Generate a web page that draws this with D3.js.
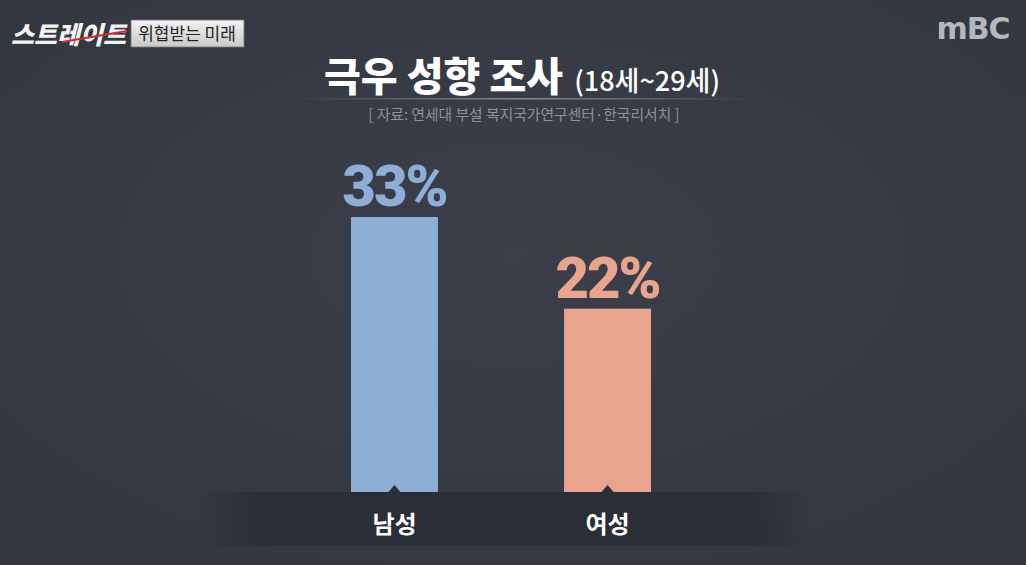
<!DOCTYPE html>
<html>
<head>
<meta charset="utf-8">
<script src="https://cdn.jsdelivr.net/npm/d3@7"></script>
<style>
  body { margin: 0; background: #363b45; overflow: hidden; }
  svg { display: block; }
</style>
</head>
<body>
<script>
const width = 1026;
const height = 565;
const font = "'Noto Sans CJK KR', 'Noto Sans', sans-serif";

// data
const categories = ["남성", "여성"];
const values = [33, 22];
const barColors = ["#8eaed6", "#e8a48d"];
const title = "극우 성향 조사";
const subtitle = "(18세~29세)";
const source = "[ 자료: 연세대 부설 복지국가연구센터·한국리서치 ]";

const svg = d3.select("body").append("svg")
  .attr("width", width)
  .attr("height", height)
  .attr("font-family", font);

const defs = svg.append("defs");

const bg = defs.append("radialGradient").attr("id", "bg")
  .attr("cx", "50%").attr("cy", "45%").attr("r", "70%");
bg.append("stop").attr("offset", "0%").attr("stop-color", "#3a3f49");
bg.append("stop").attr("offset", "100%").attr("stop-color", "#31363f");

const band = defs.append("linearGradient").attr("id", "band");
band.append("stop").attr("offset", "0%").attr("stop-color", "#2a2e36").attr("stop-opacity", 0);
band.append("stop").attr("offset", "10%").attr("stop-color", "#2a2e36").attr("stop-opacity", 0.95);
band.append("stop").attr("offset", "90%").attr("stop-color", "#2a2e36").attr("stop-opacity", 0.95);
band.append("stop").attr("offset", "100%").attr("stop-color", "#2a2e36").attr("stop-opacity", 0);

const rule = defs.append("linearGradient").attr("id", "rule");
rule.append("stop").attr("offset", "0%").attr("stop-color", "#9aa0aa").attr("stop-opacity", 0);
rule.append("stop").attr("offset", "50%").attr("stop-color", "#9aa0aa").attr("stop-opacity", 0.8);
rule.append("stop").attr("offset", "100%").attr("stop-color", "#9aa0aa").attr("stop-opacity", 0);

const tagGrad = defs.append("linearGradient").attr("id", "tag")
  .attr("x1", 0).attr("y1", 0).attr("x2", 0).attr("y2", 1);
tagGrad.append("stop").attr("offset", "0%").attr("stop-color", "#f2f2f2");
tagGrad.append("stop").attr("offset", "100%").attr("stop-color", "#c9c9c9");

svg.append("rect").attr("width", width).attr("height", height).attr("fill", "url(#bg)");

// scales
const x = d3.scaleBand()
  .domain(categories)
  .range([351, 651])
  .paddingInner(0.592)
  .paddingOuter(0);

const y = d3.scaleLinear()
  .domain([0, 33])
  .range([492, 217]);

// header: show logo
const logo = svg.append("g");
logo.append("text")
  .attr("x", 12).attr("y", 44)
  .attr("font-size", 25).attr("font-weight", 900)
  .attr("fill", "#f2f2f2")
  .attr("transform", "skewX(-14) translate(10,0)")
  .text("스트레이트");
logo.append("line")
  .attr("x1", 62).attr("y1", 42).attr("x2", 127).attr("y2", 31)
  .attr("stroke", "#d12a35").attr("stroke-width", 2);
logo.append("rect")
  .attr("x", 131).attr("y", 20).attr("width", 113).attr("height", 27)
  .attr("fill", "url(#tag)").attr("stroke", "#777").attr("stroke-width", 0.8);
logo.append("text")
  .attr("x", 187).attr("y", 40)
  .attr("text-anchor", "middle")
  .attr("font-size", 17).attr("fill", "#222")
  .text("위협받는 미래");

svg.append("text")
  .attr("x", 973).attr("y", 39)
  .attr("text-anchor", "middle")
  .attr("font-family", "'DejaVu Sans', sans-serif")
  .attr("font-size", 30).attr("font-weight", "bold")
  .attr("letter-spacing", -1)
  .attr("fill", "#b4b7bc")
  .text("mBC");

// title
const t = svg.append("text")
  .attr("x", 522).attr("y", 91)
  .attr("text-anchor", "middle")
  .attr("fill", "#ffffff");
t.append("tspan").attr("font-size", 40).attr("font-weight", 900).text(title + " ");
t.append("tspan").attr("font-size", 27).attr("font-weight", 500).attr("dx", 2).text(subtitle);

svg.append("rect")
  .attr("x", 290).attr("y", 98).attr("width", 470).attr("height", 1.5)
  .attr("fill", "url(#rule)");

svg.append("text")
  .attr("x", 524).attr("y", 120)
  .attr("text-anchor", "middle")
  .attr("font-size", 14.8)
  .attr("fill", "#8e939b")
  .text(source);

// bars
svg.append("g")
  .selectAll("rect")
  .data(values)
  .join("rect")
  .attr("x", (d, i) => x(categories[i]))
  .attr("y", d => y(d))
  .attr("width", x.bandwidth())
  .attr("height", d => y(0) - y(d))
  .attr("fill", (d, i) => barColors[i]);

// value labels
svg.append("g")
  .selectAll("text")
  .data(values)
  .join("text")
  .attr("x", (d, i) => x(categories[i]) + x.bandwidth() / 2)
  .attr("y", d => y(d) - 11)
  .attr("text-anchor", "middle")
  .attr("font-family", "'Roboto', 'Noto Sans', sans-serif")
  .attr("font-size", 58)
  .attr("font-weight", 900)
  .attr("letter-spacing", -2)
  .attr("fill", (d, i) => barColors[i])
  .text(d => d + "%");

// category band
svg.append("rect")
  .attr("x", 200).attr("y", y(0)).attr("width", 610).attr("height", 54)
  .attr("fill", "url(#band)");

const xAxis = svg.append("g")
  .attr("transform", `translate(0,${y(0)})`)
  .call(d3.axisBottom(x).tickSize(0).tickPadding(24));
xAxis.select(".domain").remove();
xAxis.selectAll(".tick text")
  .attr("font-family", font)
  .attr("font-size", 24)
  .attr("font-weight", "bold")
  .attr("fill", "#ffffff");
xAxis.selectAll(".tick")
  .append("path")
  .attr("d", "M-6,0L0,-7L6,0Z")
  .attr("fill", "#2a2e36");
</script>
</body>
</html>
